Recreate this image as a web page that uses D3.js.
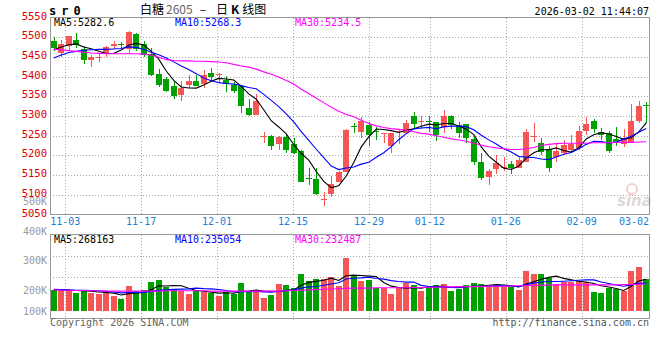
<!DOCTYPE html>
<html>
<head>
<meta charset="utf-8">
<script src="https://cdn.jsdelivr.net/npm/d3@7"></script>
<style>
  html, body { margin: 0; padding: 0; background: #fff; }
  svg { display: block; }
  text { font-family: "DejaVu Sans Mono", "Liberation Mono", monospace; font-size: 10px; }
</style>
</head>
<body>
<svg id="kline" width="660" height="360"></svg>
<script>
// trading days shown on the chart (2025-10-30 .. 2026-03-02)
var dates = [
  '10-30','10-31','11-03','11-04','11-05','11-06','11-07','11-10','11-11','11-12',
  '11-13','11-14','11-17','11-18','11-19','11-20','11-21','11-24','11-25','11-26',
  '11-27','11-28','12-01','12-02','12-03','12-04','12-05','12-08','12-09','12-10',
  '12-11','12-12','12-15','12-16','12-17','12-18','12-19','12-22','12-23','12-24',
  '12-25','12-26','12-29','12-30','12-31','01-05','01-06','01-07','01-08','01-09',
  '01-12','01-13','01-14','01-15','01-16','01-19','01-20','01-21','01-22','01-23',
  '01-26','01-27','01-28','01-29','01-30','02-02','02-03','02-04','02-05','02-06',
  '02-09','02-10','02-11','02-12','02-13','02-24','02-25','02-26','02-27','03-02'
];

var opens = [
  5490,5461,5478,5493,5470,5442,5448,5458,5477,5482,
  5470,5509,5483,5458,5407,5393,5377,5353,5379,5390,
  5382,5410,5405,5392,5378,5375,5321,5303,5246,5250,
  5229,5247,5228,5212,5143,5140,5087,5102,5133,5159,
  5274,5260,5277,5261,5255,5225,5261,5256,5300,5286,
  5288,5284,5273,5300,5277,5280,5242,5183,5146,5165,
  5168,5178,5169,5184,5246,5232,5215,5197,5205,5214,
  5220,5263,5287,5260,5256,5242,5229,5233,5287,5329
];
var highs = [
  5500,5494,5504,5510,5478,5456,5459,5478,5490,5488,
  5517,5510,5490,5472,5420,5400,5390,5390,5403,5403,
  5416,5421,5408,5402,5386,5378,5343,5356,5260,5251,
  5248,5252,5244,5214,5168,5167,5108,5147,5160,5266,
  5282,5298,5286,5271,5257,5258,5264,5290,5309,5300,
  5300,5284,5315,5303,5284,5280,5252,5207,5165,5201,
  5195,5186,5195,5266,5283,5245,5224,5231,5239,5252,
  5275,5298,5292,5269,5262,5273,5266,5330,5338,5335
];
var lows = [
  5464,5450,5467,5472,5432,5425,5436,5450,5470,5471,
  5457,5466,5450,5402,5373,5360,5342,5337,5370,5376,
  5371,5389,5383,5360,5359,5308,5300,5302,5232,5214,
  5214,5207,5204,5132,5126,5099,5071,5095,5132,5157,
  5258,5245,5225,5239,5231,5205,5230,5256,5269,5267,
  5260,5237,5256,5266,5245,5231,5175,5137,5125,5153,
  5160,5153,5169,5184,5235,5201,5159,5184,5201,5209,
  5214,5252,5256,5239,5207,5224,5222,5231,5281,5281
];
var closes = [
  5472,5482,5502,5479,5441,5449,5450,5475,5482,5480,
  5514,5470,5455,5404,5378,5364,5352,5371,5390,5377,
  5404,5399,5407,5382,5364,5325,5303,5339,5248,5225,
  5246,5214,5206,5133,5141,5101,5089,5127,5158,5264,
  5272,5287,5253,5259,5257,5258,5263,5281,5279,5288,
  5286,5252,5300,5278,5258,5245,5184,5143,5160,5181,
  5170,5167,5188,5260,5248,5208,5167,5212,5226,5229,
  5262,5280,5266,5252,5212,5231,5243,5287,5325,5328
];

// price moving averages as drawn
var ma5 = [
  5468,5475,5481,5483,5475.2,5470.6,5464.2,5458.8,5459.4,5467.2,
  5480.2,5484.2,5480.2,5464.6,5444.2,5414.2,5390.6,5373.8,5371,5370.8,
  5378.8,5388.2,5395.4,5393.8,5391.2,5375.4,5356.2,5342.6,5315.8,5288,
  5272.2,5254.4,5227.8,5204.8,5188,5159,5134,5118.2,5123.2,5147.8,
  5182,5221.6,5246.8,5267,5265.6,5262.8,5258,5263.6,5267.6,5273.8,
  5279.4,5277.2,5281,5280.8,5274.8,5266.6,5253,5221.6,5198,5182.6,
  5167.6,5164.2,5173.2,5193.2,5206.6,5214.2,5214.2,5219,5212.2,5208.4,
  5219.2,5241.8,5252.6,5257.8,5254.4,5248.2,5240.8,5245,5259.6,5282.6
];
var ma10 = [
  5447,5455,5461,5464,5467,5468,5469,5469,5470,5471.2,
  5475.4,5474.2,5469.5,5462,5455.7,5447.2,5437.4,5427,5417.8,5407.5,
  5396.5,5389.4,5384.6,5382.4,5381,5377.1,5372.2,5369,5354.8,5339.6,
  5323.8,5305.3,5285.2,5260.3,5238,5215.6,5194.2,5173,5164,5167.9,
  5170.5,5177.8,5182.5,5195.1,5206.7,5222.4,5239.8,5255.2,5267.3,5269.7,
  5271.1,5267.6,5272.3,5274.2,5274.3,5273,5265.1,5251.3,5239.4,5228.7,
  5217.1,5208.6,5197.4,5195.6,5194.6,5190.9,5189.2,5196.1,5202.7,5207.5,
  5216.7,5228,5235.8,5235,5231.4,5233.7,5241.3,5248.8,5258.7,5268.3
];
var ma30 = [
  5469,5468,5466,5464,5462,5460,5459,5458,5458,5458,
  5458,5458,5457,5455,5449,5443,5441,5440,5440,5439,
  5439,5438,5437,5435,5431,5427,5424,5419,5412,5406,
  5399,5390,5381,5368,5357,5345,5334,5322,5312,5304,
  5298,5289,5281,5275,5271,5268,5266,5264,5260,5256,
  5254,5250,5246,5242,5239,5236,5231,5226,5222,5219,
  5217,5215,5215,5217,5220,5225,5228,5230,5231,5231,
  5231,5231,5232,5232,5232,5233,5233,5233,5234,5234.5
];

var volumes = [
  200600,198000,200000,191600,200000,191600,187000,190000,181500,170000,
  214000,197000,200000,228600,234000,210000,204000,198000,187000,197000,
  195000,189500,181500,195000,187000,225000,197000,200000,175000,184000,
  221000,217500,208000,254000,231000,237600,237600,243000,215000,309000,
  248000,231000,234000,208000,208000,187000,208000,223000,217500,198000,
  210000,217500,221000,198000,204000,217500,225000,221000,215000,215000,
  212000,212000,200000,265600,254000,254000,242000,220000,228600,228600,
  231000,228600,195000,191600,208000,204000,197000,265600,279000,237600
];
var volMa5 = [
  202000,201000,200000,199000,198000,196200,194000,192000,190000,184000,
  188500,190500,192500,201900,214700,213900,215300,214900,206600,199200,
  196200,193300,190000,191600,189600,195600,197100,200800,196800,196200,
  195400,199500,201100,216900,226300,229600,233600,240600,232800,248400,
  250500,249200,247400,246000,225800,213600,209000,206800,208700,206700,
  211300,213200,212800,208900,210100,211600,213100,213100,216500,218700,
  217600,215000,210800,220900,228700,237100,243100,247100,239700,234600,
  230000,227400,222400,215000,210800,205400,199100,213200,230700,236600
];
var volMa10 = [
  203000,202000,201000,200000,200000,199000,198000,196000,194000,191000,
  192400,192300,192300,196000,199400,201200,202900,203700,204300,207000,
  205100,204300,202500,199100,194400,195900,195200,195400,194200,192900,
  195500,198300,201000,206900,211300,212500,216600,220900,224900,237400,
  240100,241400,244000,239400,237100,232100,229100,227100,227400,216300,
  212500,211100,209800,208800,208400,211500,213200,213000,212700,214400,
  214600,214100,212000,218700,223700,227400,229100,229000,230300,231700,
  233600,235200,234700,227300,222700,217700,213200,217800,222800,223700
];
var volMa30 = [
  201000,200000,200000,199000,199000,198000,198000,197000,197000,197000,
  197000,197000,197000,197000,197000,198000,198000,198000,198000,198000,
  198000,197000,197000,197000,197000,197000,197000,197000,197000,197000,
  197000,198000,199000,200000,201000,202000,203000,204000,205000,206000,
  207000,207000,207000,208000,208000,208000,208000,208000,209000,209000,
  210000,210000,211000,211000,212000,212000,212000,212000,213000,213000,
  213000,214000,215000,216000,216000,217000,217000,218000,218000,218000,
  218000,218000,218000,218000,218000,218000,219000,219000,220000,221000
];

var priceTicks = [5050, 5100, 5150, 5200, 5250, 5300, 5350, 5400, 5450, 5500, 5550];
var volTicks = [100000, 200000, 300000, 400000, 500000];
var dateTicks = ['11-03', '11-17', '12-01', '12-15', '12-29', '01-12', '01-26', '02-09', '03-02'];

var legendPrice = ['MA5:5282.6', 'MA10:5268.3', 'MA30:5234.5'];
var legendVol = ['MA5:268163', 'MA10:235054', 'MA30:232487'];

var render = () => {
  var RED = '#f65555';
  var GREEN = '#00a000';
  var GRID = '#a8a8a8';
  var FRAME = '#999';
  var MA_COLORS = ['#000', '#0000ff', '#ff00ff'];

  var left = 50, right = 650;
  var priceTop = 17.5, priceBottom = 214.5;
  var volTop = 234.5, volBottom = 318.5;

  var svg = d3.select('#kline');
  var idx = d3.range(dates.length);

  /**
   * scales
   */
  var x = d3.scaleBand()
    .domain(idx)
    .range([left, right])
    .paddingInner(0.2)
    .paddingOuter(0.1);

  // the date grid uses its own spacing (one step per trading day across the panel)
  var xGrid = d3.scaleLinear()
    .domain([0, dates.length - 1])
    .range([left, right]);

  var y = d3.scaleLinear()
    .domain([d3.min(priceTicks), d3.max(priceTicks)])
    .range([priceBottom, priceTop]);

  var yVol = d3.scaleLinear()
    .domain([130000, 500000])
    .range([311, 201])
    .clamp(true);

  var bw = Math.round(x.bandwidth());
  var bx = i => Math.round(x(i));
  var cx = i => x(i) + x.bandwidth() / 2;

  /**
   * grid
   */
  var grid = svg.append('g')
    .attr('stroke', GRID)
    .attr('stroke-dasharray', '1,2')
    .attr('shape-rendering', 'crispEdges');

  priceTicks.slice(1, -1).forEach(p => {
    var yy = Math.round(y(p)) + 0.5;
    grid.append('line').attr('x1', left).attr('x2', right).attr('y1', yy).attr('y2', yy);
  });

  d3.range(1, 4).forEach(k => {
    var yy = Math.round(volTop + (volBottom - volTop) * k / 4) + 0.5;
    grid.append('line').attr('x1', left).attr('x2', right).attr('y1', yy).attr('y2', yy);
  });

  dateTicks.slice(0, -1).forEach(d => {
    var xx = Math.round(xGrid(dates.indexOf(d))) + 0.5;
    grid.append('line').attr('x1', xx).attr('x2', xx).attr('y1', priceTop).attr('y2', priceBottom);
    grid.append('line').attr('x1', xx).attr('x2', xx).attr('y1', volTop).attr('y2', volBottom + 2);
  });

  /**
   * sina watermark
   */
  var wm = svg.append('g').attr('opacity', 0.55);
  wm.append('circle')
    .attr('cx', 632).attr('cy', 189).attr('r', 5)
    .attr('fill', 'none').attr('stroke', '#e9a9a9').attr('stroke-width', 2);
  wm.append('text')
    .attr('x', 617).attr('y', 206)
    .style('font-family', '"DejaVu Sans", sans-serif')
    .style('font-size', '15px').style('font-style', 'italic').style('font-weight', 'bold')
    .attr('fill', '#c8b8b8')
    .text('sina');

  /**
   * candles
   */
  var candle = svg.append('g')
    .attr('shape-rendering', 'crispEdges')
    .selectAll('g')
    .data(idx)
    .enter().append('g')
      .attr('fill', i => closes[i] >= opens[i] ? RED : GREEN);

  candle.append('rect')
    .attr('x', i => bx(i) + Math.floor(bw / 2))
    .attr('y', i => Math.round(y(highs[i])))
    .attr('width', 1)
    .attr('height', i => Math.max(1, Math.round(y(lows[i])) - Math.round(y(highs[i]))));

  candle.append('rect')
    .attr('x', bx)
    .attr('y', i => Math.round(y(Math.max(opens[i], closes[i]))))
    .attr('width', bw)
    .attr('height', i => Math.max(1, Math.round(y(Math.min(opens[i], closes[i]))) - Math.round(y(Math.max(opens[i], closes[i])))));

  /**
   * volume bars
   */
  svg.append('g')
    .attr('shape-rendering', 'crispEdges')
    .selectAll('rect')
    .data(idx)
    .enter().append('rect')
      .attr('x', bx)
      .attr('y', i => Math.round(yVol(volumes[i])))
      .attr('width', bw)
      .attr('height', i => Math.round(yVol.range()[0]) - Math.round(yVol(volumes[i])))
      .attr('fill', i => closes[i] >= opens[i] ? RED : GREEN);

  /**
   * moving averages
   */
  var priceLine = d3.line().x(d => cx(d[0])).y(d => y(d[1]));
  var volLine = d3.line().x(d => cx(d[0])).y(d => yVol(d[1]));

  [ma5, ma10, ma30].forEach((series, k) => {
    svg.append('path')
      .attr('d', priceLine(series.map((v, i) => [i, v])))
      .attr('fill', 'none')
      .attr('stroke', MA_COLORS[k])
      .attr('stroke-width', 1.1);
  });

  [volMa5, volMa10, volMa30].forEach((series, k) => {
    svg.append('path')
      .attr('d', volLine(series.map((v, i) => [i, v])))
      .attr('fill', 'none')
      .attr('stroke', MA_COLORS[k])
      .attr('stroke-width', 1.1);
  });

  /**
   * frames
   */
  [[priceTop, priceBottom], [volTop, volBottom]].forEach(([t, b]) => {
    svg.append('rect')
      .attr('x', left + 0.5).attr('y', t)
      .attr('width', right - left - 1).attr('height', b - t)
      .attr('fill', 'none').attr('stroke', FRAME)
      .attr('shape-rendering', 'crispEdges');
  });

  /**
   * axis labels
   */
  svg.append('g').selectAll('text')
    .data(priceTicks)
    .enter().append('text')
      .attr('x', 47)
      .attr('y', d => y(d) + 2)
      .attr('text-anchor', 'end')
      .attr('fill', '#e00000')
      .style('font-size', '10.5px')
      .text(d => d);

  svg.append('g').selectAll('text')
    .data(volTicks)
    .enter().append('text')
      .attr('x', 47)
      .attr('y', d => yVol(d) + 4)
      .attr('text-anchor', 'end')
      .attr('fill', '#999')
      .text(d => `${ d / 1000 }K`);

  svg.append('g').selectAll('text')
    .data(dateTicks)
    .enter().append('text')
      .attr('x', (d, k) => k === dateTicks.length - 1 ? right - 1 : xGrid(dates.indexOf(d)))
      .attr('y', 225)
      .attr('text-anchor', (d, k) => k === dateTicks.length - 1 ? 'end' : 'middle')
      .attr('fill', '#1a7fd4')
      .text(d => d);

  /**
   * legends
   */
  var legendX = [54, 175, 295];
  legendPrice.forEach((t, k) => {
    svg.append('text').attr('x', legendX[k]).attr('y', 26).attr('fill', MA_COLORS[k]).text(t);
  });
  legendVol.forEach((t, k) => {
    svg.append('text').attr('x', legendX[k]).attr('y', 243).attr('fill', MA_COLORS[k]).text(t);
  });

  /**
   * header and footer
   */
  svg.append('text')
    .attr('x', 49).attr('y', 15)
    .style('font-size', '12px').style('font-weight', 'bold').style('letter-spacing', '-1.1px')
    .text('s r 0');

  var title = svg.append('text')
    .attr('x', 140).attr('y', 14)
    .style('font-family', '"Noto Sans CJK SC", sans-serif')
    .style('font-size', '12px');
  title.append('tspan').text('白糖');
  title.append('tspan').attr('dx', 2).attr('fill', '#666').text('2605');
  title.append('tspan').attr('dx', 7).text('–');
  title.append('tspan').attr('dx', 10).text('日');
  title.append('tspan').attr('dx', 3).style('font-weight', 'bold').text('K');
  title.append('tspan').attr('dx', 3).text('线图');

  svg.append('text')
    .attr('x', 649).attr('y', 15)
    .attr('text-anchor', 'end')
    .text('2026-03-02 11:44:07');

  svg.append('text')
    .attr('x', 50).attr('y', 326)
    .attr('fill', '#666')
    .text('Copyright 2026 SINA.COM');

  svg.append('text')
    .attr('x', 649).attr('y', 326)
    .attr('text-anchor', 'end')
    .attr('fill', '#555')
    .text('http://finance.sina.com.cn');
};

render();
</script>
</body>
</html>
